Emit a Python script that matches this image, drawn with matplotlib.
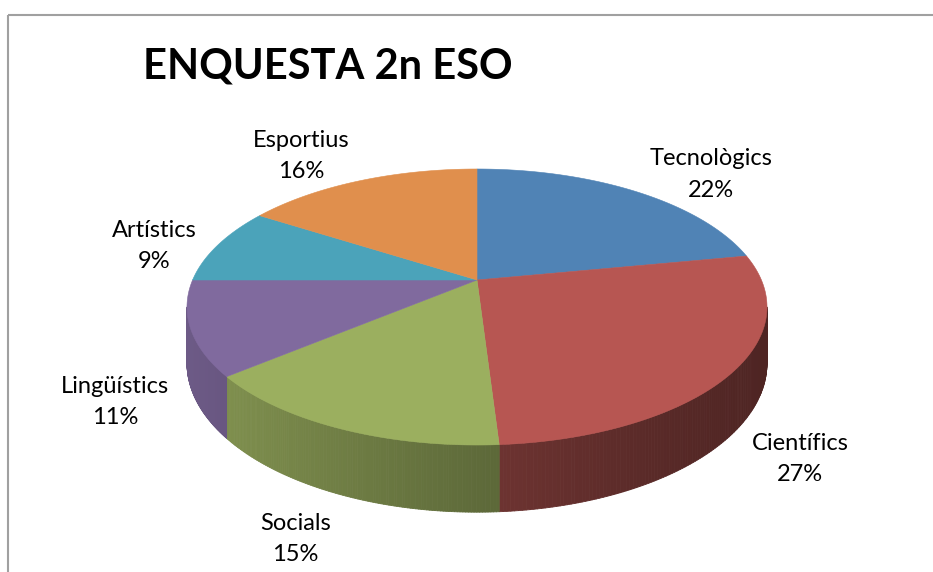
import numpy as np
import matplotlib.pyplot as plt
from matplotlib.patches import Polygon
from matplotlib.collections import PolyCollection
from matplotlib.colors import to_rgb

# dades de l'enquesta
categories = ['Tecnològics', 'Científics', 'Socials', 'Lingüístics', 'Artístics', 'Esportius']
percentages = [22, 27, 15, 11, 9, 16]
colors = ['#5083B5', '#B75652', '#9BAF5F', '#806A9E', '#4BA3BA', '#E08F4D']
title = 'ENQUESTA 2n ESO'

# geometria del pastís 3D (en píxels de la figura)
CX, CY = 477, 280      # centre projectat
SCALE = 284.4          # escala horitzontal
K = 0.1957             # perspectiva
P1 = -77.93            # escala vertical
D0 = 54                # gruix del pastís


def project(X, Y):
    den = 1 + K * Y
    return CX + SCALE * X / den, (CY + P1 * Y) / den


def thickness(Y):
    return D0 / (1 + K * Y)


def side_factor(x):
    # llum des de l'esquerra: el costat es fa més fosc cap a la dreta
    r = np.clip((767 - x) / 580, 0, 1)
    return 0.43 + 0.42 * r ** 1.2


fig = plt.figure(figsize=(9.33, 5.72), dpi=100)
ax = fig.add_axes([0, 0, 1, 1])
ax.set_xlim(0, 933)
ax.set_ylim(572, 0)
ax.axis('off')

# marc de l'àrea del gràfic (només es veuen la vora superior i l'esquerra)
ax.plot([8, 960], [15, 15], color='#A0A0A0', lw=1.5, solid_capstyle='butt')
ax.plot([8, 8], [15, 600], color='#A0A0A0', lw=1.5, solid_capstyle='butt')

cum = np.concatenate([[0], np.cumsum(percentages)])
starts = 90 - 360 * cum[:-1] / 100
ends = 90 - 360 * cum[1:] / 100

# costats visibles (part frontal)
vis_lo = -180 + np.degrees(np.arcsin(K))
vis_hi = -np.degrees(np.arcsin(K))
polys, fcols = [], []
for s, e, c in zip(starts, ends, colors):
    lo, hi = max(e, vis_lo), min(s, vis_hi)
    if lo >= hi:
        continue
    t = np.radians(np.linspace(hi, lo, 120))
    X, Y = np.cos(t), np.sin(t)
    px, py = project(X, Y)
    py2 = py + thickness(Y)
    base = np.array(to_rgb(c))
    for i in range(len(t) - 1):
        quad = [(px[i], py[i]), (px[i + 1], py[i + 1]), (px[i + 1], py2[i + 1]), (px[i], py2[i])]
        f = side_factor((px[i] + px[i + 1]) / 2)
        polys.append(quad)
        fcols.append(np.clip(base * f, 0, 1))
ax.add_collection(PolyCollection(polys, facecolors=fcols, edgecolors=fcols, linewidths=0.6))

# cara superior
for s, e, c in zip(starts, ends, colors):
    t = np.radians(np.linspace(s, e, 200))
    px, py = project(np.cos(t), np.sin(t))
    pts = [project(0, 0)] + list(zip(px, py))
    ax.add_patch(Polygon(pts, closed=True, facecolor=c, edgecolor=c, lw=0.4))

# etiquetes de dades: la caixa de text es col·loca fora de la vora del sector
renderer = fig.canvas.get_renderer()
for s, e, cat, pct in zip(starts, ends, categories, percentages):
    mid = np.radians((s + e) / 2)
    X, Y = np.cos(mid), np.sin(mid)
    ax_x, ax_y = project(X, Y)
    ux, uy = ax_x - CX, ax_y - CY
    n = np.hypot(ux, uy)
    ux, uy = ux / n, uy / n
    if np.sin(mid) < -K:
        ax_y += thickness(Y)
    txt = ax.text(ax_x, ax_y, f'{cat}\n{pct}%', ha='center', va='center', fontsize=17,
                  family=['Lato', 'DejaVu Sans'], linespacing=1.6, color='black')
    hw = txt.get_window_extent(renderer).width / 2
    lx = ax_x + np.sign(ux) * hw * np.sqrt(abs(ux)) + 22 * ux
    ly = ax_y + 8 + 50 * uy
    txt.set_position((lx, ly))

ax.text(143, 78, title, ha='left', va='baseline', fontsize=30, fontweight='bold',
        family=['Lato', 'DejaVu Sans'], color='black')

fig.savefig('out.png', dpi=100)
